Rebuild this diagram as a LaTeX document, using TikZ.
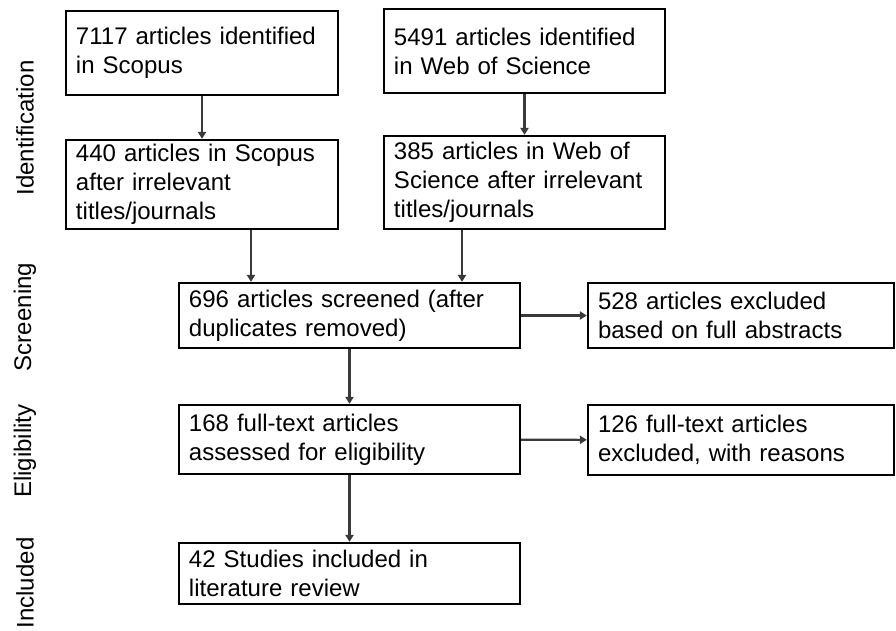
\documentclass[tikz,border=0pt]{standalone}
\usepackage{fontspec}
\setmainfont{Liberation Sans}
\usetikzlibrary{arrows.meta}
\definecolor{arrowgray}{HTML}{3A3A3A}
\tikzset{
  boxtext/.style={font=\fontsize{20.5}{24.7}\selectfont},
  flowbox/.style={draw=black,line width=2pt,rectangle,inner xsep=0.3cm,inner ysep=2pt,align=left,boxtext},
  phase/.style={rotate=90,boxtext,inner sep=0pt},
  flowarrow/.style={draw=arrowgray,line width=1.8pt,-{Triangle[length=6pt,width=7pt]}}
}
\begin{document}
\begin{tikzpicture}[x=0.03cm,y=-0.03cm]
  \useasboundingbox (0,0) rectangle (896,630);
  % phase labels
  \node[phase] (identification) at (25,128) {Identification};
  \node[phase] (screening) at (25,317) {Screening};
  \node[phase] (eligibility) at (25,451) {Eligibility};
  \node[phase] (included) at (25,583) {Included};
  \begin{scope}[every node/.style={flowbox}]
  \node[text width=7.56cm,minimum height=2.52cm] (scopus) at (202,53) {7117 articles identified\\in Scopus};
  \node[text width=7.83cm,minimum height=2.52cm] (wos) at (524.5,51) {5491 articles identified\\in Web of Science};
  \node[text width=7.56cm,minimum height=2.67cm] (scopusrel) at (202,184.5) {440 articles in Scopus\\after irrelevant\\titles/journals};
  \node[text width=7.83cm,minimum height=2.79cm] (wosrel) at (524.5,182.5) {385 articles in Web of\\Science after irrelevant\\titles/journals};
  \node[text width=9.63cm,minimum height=1.95cm] (screened) at (349.5,315.5) {696 articles screened (after\\duplicates removed)};
  \node[text width=8.58cm,minimum height=1.95cm] (abstracts) at (741,315.5) {528 articles excluded\\based on full abstracts};
  \node[text width=9.63cm,minimum height=2.07cm] (fulltext) at (349.5,439.5) {168 full-text articles\\assessed for eligibility};
  \node[text width=8.58cm,minimum height=2.1cm] (reasons) at (741,440) {126 full-text articles\\excluded, with reasons};
  \node[text width=9.63cm,minimum height=1.83cm] (studies) at (349.5,573.5) {42 Studies included in\\literature review};
  \end{scope}
  \coordinate (scopusx) at (251,0);
  \coordinate (wosx) at (462,0);
  \begin{scope}[every edge/.style={flowarrow}]
  \path (scopus) edge (scopusrel);
  \path (wos) edge (wosrel);
  \path (scopusrel.south -| scopusx) edge (screened.north -| scopusx);
  \path (wosrel.south -| wosx) edge (screened.north -| wosx);
  \path (screened) edge (abstracts);
  \path (screened) edge (fulltext);
  \path (fulltext) edge (reasons);
  \path (fulltext) edge (studies);
  \end{scope}
\end{tikzpicture}
\end{document}
